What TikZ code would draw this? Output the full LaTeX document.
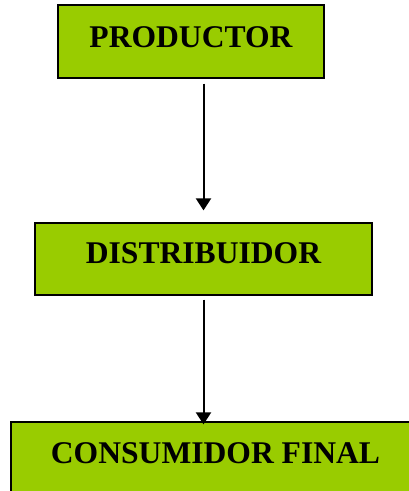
\documentclass[tikz,border=0pt]{standalone}
\usepackage{fontspec}
\setmainfont{Liberation Serif}
\usetikzlibrary{arrows.meta}
\definecolor{boxgreen}{HTML}{99CC00}
\tikzset{
  box/.style={draw=black, line width=1.2pt, fill=boxgreen, inner sep=0pt,
    font=\fontsize{31.6}{36}\selectfont\bfseries, anchor=base},
  conn/.style={draw=black, line width=2pt, arrows={-Triangle[width=15pt,length=12pt]}}
}
\begin{document}
\begin{tikzpicture}[x=1pt,y=-1pt]
\clip (0,0) rectangle (409,491);
\fill[white] (0,0) rectangle (409,491);
\node[box, minimum width=266pt, text height=42pt, text depth=31pt] (prod) at (191,47) {PRODUCTOR};
\node[box, minimum width=337pt, text height=40pt, text depth=32pt] (dist) at (203.5,263) {DISTRIBUIDOR};
\node[box, minimum width=409pt, text height=41pt, text depth=42pt] (cons) at (215.5,463) {CONSUMIDOR FINAL};
\path[conn, shorten <=5pt, shorten >=12pt] (prod.south -| dist.north) -- (dist.north);
\path[conn, shorten <=4pt, shorten >=-3pt] (dist.south) -- (cons.north -| dist.south);
\end{tikzpicture}
\end{document}
